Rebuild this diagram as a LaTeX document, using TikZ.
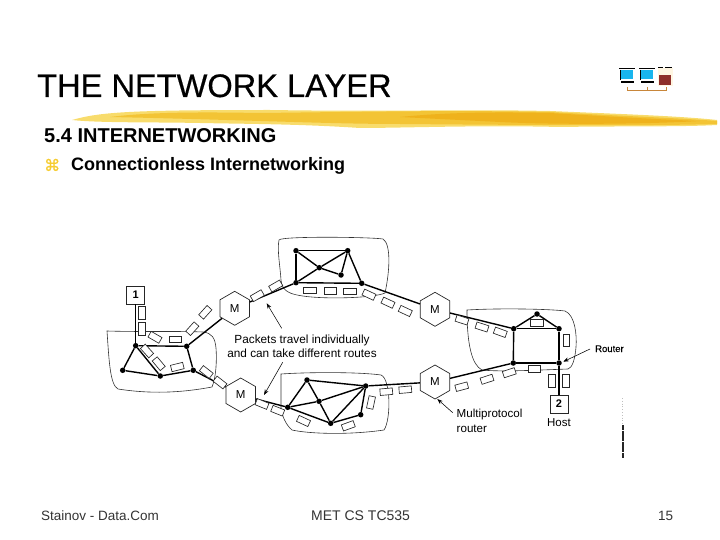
\documentclass[tikz,border=0pt]{standalone}
\usepackage{fontspec}
\setmainfont{Liberation Sans}
\newfontfamily\symfont[FakeBold=1.2]{DejaVu Sans}
\newfontfamily\heavyfont[FakeBold=0.5]{Liberation Sans}
\usetikzlibrary{shapes.geometric, positioning, arrows.meta}
\definecolor{brushA}{HTML}{F8DC6C}
\definecolor{brushB}{HTML}{F3C435}
\definecolor{brushC}{HTML}{EFB21C}
\definecolor{bulletCol}{HTML}{F6CC30}
\definecolor{busCol}{HTML}{C8863A}
\definecolor{screenCol}{HTML}{19B5EE}
\definecolor{boxCol}{HTML}{8E2F2A}
\definecolor{creamCol}{HTML}{FFF6E2}

\begin{document}
\begin{tikzpicture}[
    x=1pt, y=-1pt,
    routerNode/.style={circle, fill=black, inner sep=0pt, minimum size=5.5pt},
    gateNode/.style={regular polygon, regular polygon sides=6, shape border rotate=30, draw=black!85, line width=0.7pt, inner sep=0pt, minimum size=34pt, font=\fontsize{11.5}{13}\selectfont},
    hostNode/.style={rectangle, draw=black!85, line width=0.7pt, fill=white, minimum size=18pt, inner sep=0pt, font=\fontsize{11}{12}\selectfont\bfseries},
    pktNode/.style={rectangle, draw=black!85, line width=0.65pt, fill=white, minimum width=12.5pt, minimum height=6.5pt, inner sep=0pt},
    link/.style={line width=1.4pt},
    cloudLine/.style={line width=0.6pt, black!80},
    noteArrow/.style={line width=0.55pt, -{Stealth[length=5.5pt,width=4pt]}},
    noteText/.style={font=\fontsize{11.8}{14}\selectfont, inner sep=0pt},
    slideTitle/.style={anchor=base west, inner sep=0pt, font=\fontsize{32.6}{36}\selectfont\heavyfont},
    footText/.style={anchor=base west, inner sep=0pt, black!80, font=\fontsize{13.5}{16}\selectfont}
]
    \useasboundingbox (0,0) rectangle (720,540);

    % Brush stroke
    \fill[brushA] (72,120) .. controls (100,112) and (130,110) .. (270,110) .. controls (400,112) and (450,109) .. (550,111) .. controls (620,114) and (680,116) .. (717,120) -- (717,125) .. controls (680,127) and (620,126) .. (560,127) .. controls (480,125) and (400,128) .. (360,128) .. controls (300,124) and (250,124) .. (200,123) .. controls (150,122) and (100,123) .. cycle;
    \fill[brushB] (110,117) .. controls (150,112) and (200,112) .. (260,113) .. controls (350,112) and (450,110) .. (550,112) .. controls (620,116) and (680,118) .. (717,121) -- (717,124) .. controls (650,126) and (520,125) .. (400,124) .. controls (330,124) and (250,120) .. (110,117) -- cycle;
    \fill[brushC] (400,117) .. controls (450,112) and (500,112) .. (550,113) .. controls (600,116) and (650,119) .. (700,121) .. controls (650,124) and (560,125) .. (500,122) -- cycle;

    % Titles
    \node[slideTitle] (title) at (37,97) {THE NETWORK LAYER};
    \node[slideTitle, font=\fontsize{20}{24}\selectfont\bfseries] (section) at (44,143) {5.4 INTERNETWORKING};
    \node[slideTitle, font=\fontsize{18}{22}\selectfont\bfseries] (topic) at (71,171) {Connectionless Internetworking};
    \node[slideTitle, bulletCol, font=\fontsize{16}{16}\selectfont\symfont] (bullet) at (44,171) {⌘};

    % Logo
    \fill[creamCol] (658,68) rectangle (673,86);
    \foreach \mx in {619,639} {
        \fill[black] (\mx,68) rectangle +(15.5,1.5);
        \fill[screenCol] (\mx+1,70) rectangle +(13,9.5);
        \draw[black, line width=0.8pt] (\mx+1,70) -- +(0,10);
        \fill[black] (\mx+2,81.5) rectangle +(13,1.2);
    }
    \fill[black] (658,67.5) rectangle +(5,1);
    \fill[black] (665,67.5) rectangle +(7,1);
    \fill[boxCol] (659,75) rectangle (671,85);
    \draw[busCol, line width=1pt] (627,87) -- (627,90.5) -- (666,90.5) -- (666,87);
    \draw[busCol, line width=1pt] (647,87) -- (647,90.5);

    % Clouds
    \draw[cloudLine] (107,331) .. controls (140,332) and (180,331) .. (203,332) .. controls (212,333) and (215,338) .. (216,348) .. controls (217,360) and (216,378) .. (212,387) .. controls (180,393) and (150,394) .. (118,389) .. controls (110,385) and (109,360) .. cycle;
    \draw[cloudLine] (279,240) .. controls (281,236) and (370,237) .. (383,239) .. controls (391,244) and (390,270) .. (385,293) .. controls (375,298) and (320,300) .. (297,295) .. controls (288,293) and (282,290) .. (281,280) .. controls (280,265) and (277,250) .. cycle;
    \draw[cloudLine] (281,374) .. controls (310,372) and (360,372) .. (381,375) .. controls (391,379) and (391,420) .. (384,430) .. controls (350,435) and (310,434) .. (292,430) .. controls (286,425) and (282,416) .. (281,408) -- cycle;
    \draw[cloudLine] (467,310) .. controls (500,308) and (550,309) .. (565,311) .. controls (575,315) and (577,335) .. (576,347) .. controls (575,360) and (572,368) .. (568,369) .. controls (540,370) and (500,372) .. (482,370) .. controls (472,365) and (467,345) .. cycle;

    % Routers
    \node[routerNode] (la) at (135.7,345.7) {};
    \node[routerNode] (lb) at (186.7,346.3) {};
    \node[routerNode] (lc) at (193.3,370.3) {};
    \node[routerNode] (ld) at (160.3,376) {};
    \node[routerNode] (le) at (122.7,370.3) {};
    \node[routerNode] (ta) at (296,250.7) {};
    \node[routerNode] (tb) at (347.7,250.7) {};
    \node[routerNode] (tc) at (319.3,267.7) {};
    \node[routerNode] (td) at (341,275) {};
    \node[routerNode] (te) at (296,282.7) {};
    \node[routerNode] (tf) at (361.7,283.3) {};
    \node[routerNode] (ba) at (287.7,407.3) {};
    \node[routerNode] (bb) at (307,380) {};
    \node[routerNode] (bc) at (319,401.3) {};
    \node[routerNode] (bd) at (330.7,423.3) {};
    \node[routerNode] (be) at (360.7,414.7) {};
    \node[routerNode] (bf) at (365.7,386) {};
    \node[routerNode] (ra) at (513.7,328.7) {};
    \node[routerNode] (rb) at (537,314) {};
    \node[routerNode] (rc) at (559,328.7) {};
    \node[routerNode] (rd) at (559,363) {};
    \node[routerNode] (re) at (513.3,363) {};

    % Multiprotocol routers and hosts
    \node[gateNode] (gw1) at (234.7,308.3) {M};
    \node[gateNode] (gw2) at (240.7,395) {M};
    \node[gateNode] (gw3) at (435,309.3) {M};
    \node[gateNode] (gw4) at (435,382) {M};
    \node[hostNode] (host1) at (135.7,295) {1};
    \node[hostNode] (host2) at (559,404) {2};

    % Connecting lines
    \draw[link] (host1) -- (la);
    \draw[link] (la) -- (lb);
    \draw[link] (la) -- (le);
    \draw[link] (la) -- (ld);
    \draw[link] (le) -- (ld);
    \draw[link] (ld) -- (lc);
    \draw[link] (lc) -- (lb);
    \draw[link] (lb) -- (gw1);
    \draw[link] (lc) -- (gw2);
    \draw[link] (gw1) -- (te);
    \draw[link] (gw2) -- (ba);
    \draw[link] (ta) -- (tb);
    \draw[link] (ta) -- (te);
    \draw[link] (ta) -- (tc);
    \draw[link] (tc) -- (td);
    \draw[link] (tb) -- (tc);
    \draw[link] (tc) -- (te);
    \draw[link] (tb) -- (td);
    \draw[link] (tb) -- (tf);
    \draw[link] (te) -- (tf);
    \draw[link] (ba) -- (bb);
    \draw[link] (bb) -- (bc);
    \draw[link] (bc) -- (bd);
    \draw[link] (ba) -- (bc);
    \draw[link] (bc) -- (bf);
    \draw[link] (bb) -- (bf);
    \draw[link] (ba) -- (bd);
    \draw[link] (bd) -- (be);
    \draw[link] (be) -- (bf);
    \draw[link] (bd) -- (bf);
    \draw[link] (tf) -- (gw3);
    \draw[link] (gw3) -- (ra);
    \draw[link] (bf) -- (gw4);
    \draw[link] (gw4) -- (re);
    \draw[link] (ra) -- (rb);
    \draw[link] (rb) -- (rc);
    \draw[link] (ra) -- (rc);
    \draw[link] (rc) -- (rd);
    \draw[link] (rd) -- (re);
    \draw[link] (re) -- (ra);
    \draw[link] (rd) -- (host2);

    % Packets
    \node[pktNode, rotate=90] (p1) at (141.7,312.7) {};
    \node[pktNode, rotate=90] (p2) at (141.7,328.7) {};
    \node[pktNode, rotate=-30] (p3) at (155,337.3) {};
    \node[pktNode] (p4) at (175.3,339.3) {};
    \node[pktNode, rotate=48] (p5) at (192.3,328.7) {};
    \node[pktNode, rotate=48] (p6) at (205.3,312.3) {};
    \node[pktNode, rotate=-48] (p7) at (147,351) {};
    \node[pktNode, rotate=-50] (p8) at (158.7,363.7) {};
    \node[pktNode, rotate=14] (p9) at (177.3,367) {};
    \node[pktNode, rotate=-38] (p10) at (206.3,372) {};
    \node[pktNode, rotate=-38] (p11) at (220,382.5) {};
    \node[pktNode, rotate=30] (p12) at (257.3,295.7) {};
    \node[pktNode, rotate=30] (p13) at (275.7,286) {};
    \node[pktNode] (p14) at (309.7,290.3) {};
    \node[pktNode] (p15) at (330.3,290.7) {};
    \node[pktNode] (p16) at (349.7,291.3) {};
    \node[pktNode, rotate=-25] (p17) at (369,294.7) {};
    \node[pktNode, rotate=-25] (p18) at (388,302.7) {};
    \node[pktNode, rotate=-25] (p19) at (405.3,311) {};
    \node[pktNode, rotate=-18] (p20) at (462,320) {};
    \node[pktNode, rotate=-18] (p21) at (482,327) {};
    \node[pktNode, rotate=-20] (p22) at (500.3,332.3) {};
    \node[pktNode] (p23) at (536.7,323) {};
    \node[pktNode, rotate=90] (p24) at (566.3,340.3) {};
    \node[pktNode] (p25) at (534.3,369) {};
    \node[pktNode, rotate=90] (p26) at (551.7,381) {};
    \node[pktNode, rotate=90] (p27) at (566,381) {};
    \node[pktNode, rotate=18] (p28) at (509.3,372.7) {};
    \node[pktNode, rotate=18] (p29) at (487,379.3) {};
    \node[pktNode, rotate=15] (p30) at (461.7,386.7) {};
    \node[pktNode, rotate=5] (p31) at (405.3,389.7) {};
    \node[pktNode, rotate=5] (p32) at (386.3,391.7) {};
    \node[pktNode, rotate=78] (p33) at (371,402.5) {};
    \node[pktNode, rotate=-22] (p34) at (262,404) {};
    \node[pktNode, rotate=-22] (p35) at (277.7,410.7) {};
    \node[pktNode, rotate=-25] (p36) at (303.5,421) {};
    \node[pktNode, rotate=20] (p37) at (348.3,425.8) {};

    % Labels
    \node[noteText, align=center] (note) at (302,346) {Packets travel individually\\and can take different routes};
    \node[noteText, anchor=base west, font=\fontsize{9.5}{12}\selectfont\heavyfont] (routerLabel) at (595,352) {Router};
    \node[noteText, anchor=north west, align=left, font=\fontsize{11.6}{15}\selectfont] (gateLabel) at (456.5,408.5) {Multiprotocol\\router};
    \node[noteText, below=5pt of host2, font=\fontsize{11.5}{14}\selectfont] (hostLabel) {Host};

    % Arrows
    \coordinate (tipA) at (266.7,303.3);
    \coordinate (tipB) at (264,395);
    \coordinate (tipC) at (563.3,361.7);
    \coordinate (tipD) at (437.3,399);
    \draw[noteArrow] (281.7,328.3) -- (tipA);
    \draw[noteArrow] (282.7,362.3) -- (tipB);
    \draw[noteArrow] (590,349) -- (tipC);
    \draw[noteArrow] (452.7,412.7) -- (tipD);

    % Scan speck
    \draw[black!85, line width=1.6pt, dash pattern=on 5pt off 0.6pt] (622.7,425) -- (622.7,458);
    \draw[black!25, line width=0.8pt, dotted] (622,398) -- (622,424);

    % Footer
    \node[footText] (footA) at (41,520) {Stainov - Data.Com};
    \node[footText, font=\fontsize{14}{16}\selectfont] (footB) at (311,520) {MET CS TC535};
    \node[footText] (footC) at (658,520) {15};
\end{tikzpicture}
\end{document}
